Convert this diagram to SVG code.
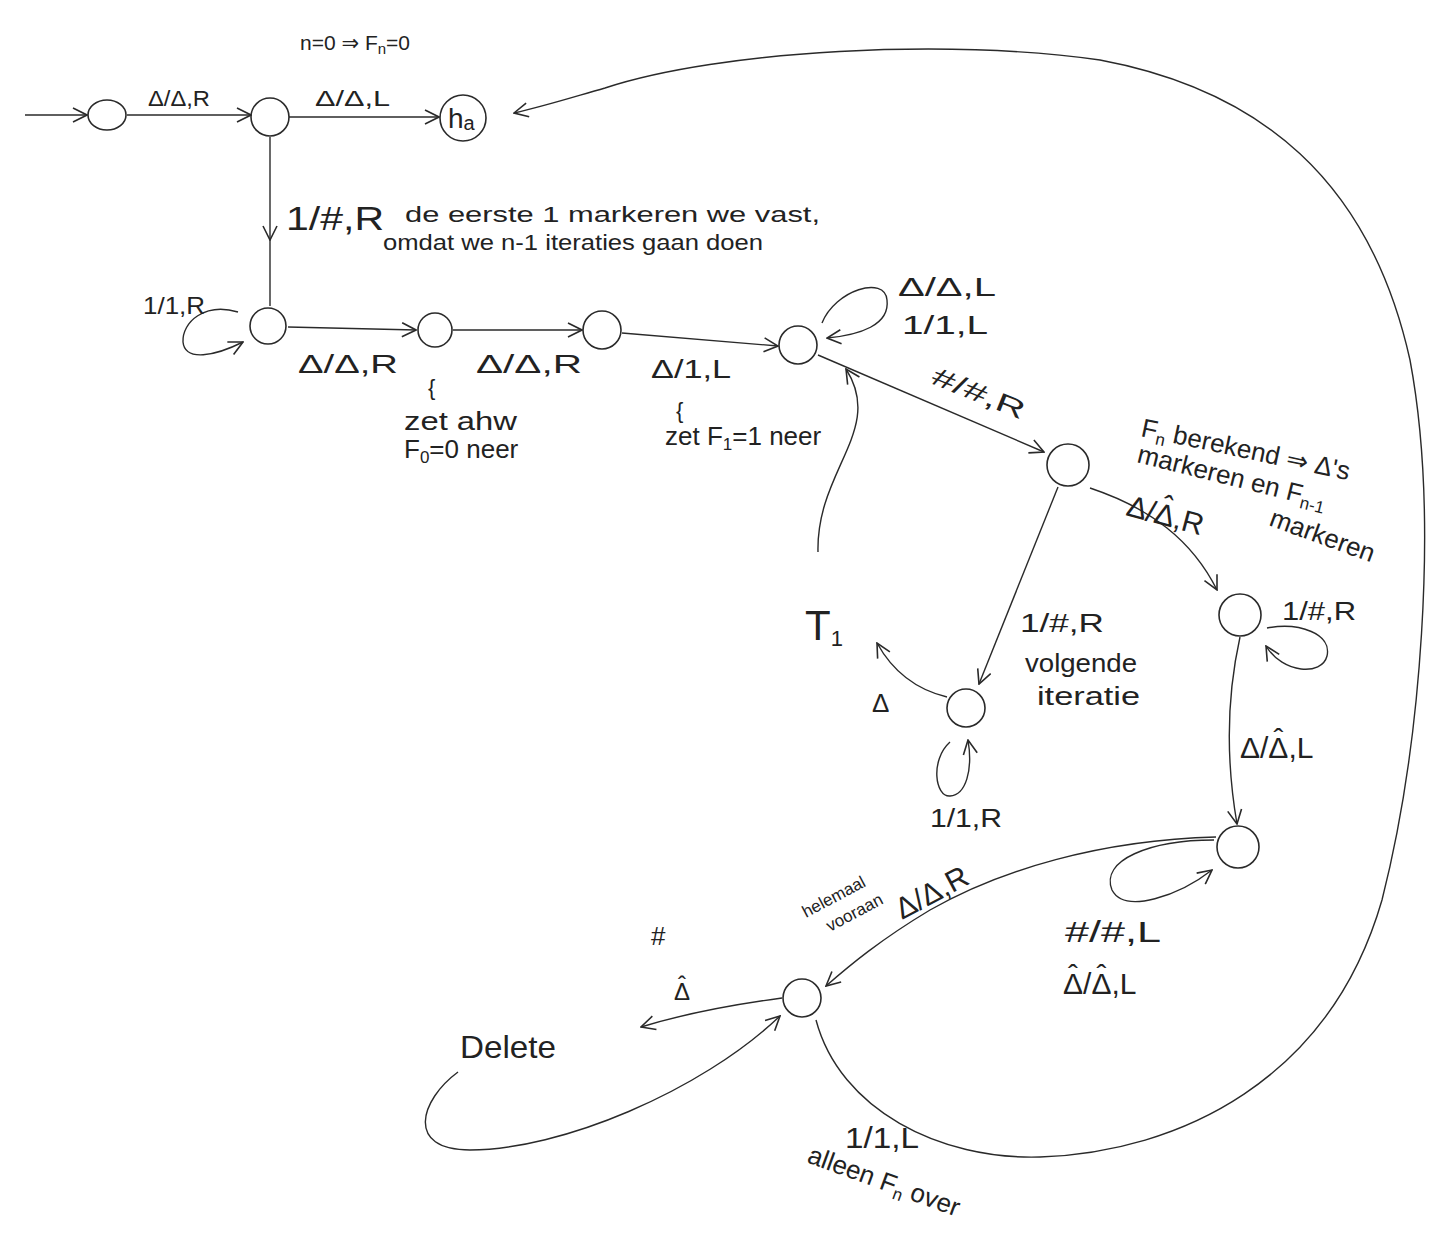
<svg xmlns="http://www.w3.org/2000/svg" width="1435" height="1235" viewBox="0 0 1435 1235">
<style>
  .node { fill: none; stroke: #2a2a2a; stroke-width: 1.6; }
  .edge { fill: none; stroke: #2a2a2a; stroke-width: 1.4; }
  .lbl { font-family: "Liberation Sans", "DejaVu Sans", sans-serif; fill: #222; }
  .s { font-size: 22px; }
  .m { font-size: 26px; }
  .l { font-size: 30px; }
  .note { font-size: 22px; }
</style>
<defs>
  <marker id="arr" viewBox="0 0 16 16" refX="15" refY="8" markerWidth="16" markerHeight="16" markerUnits="userSpaceOnUse" orient="auto">
    <path d="M1,1 L15,8 L1,15" fill="none" stroke="#2a2a2a" stroke-width="1.6"/>
  </marker>
</defs>
<rect width="1435" height="1235" fill="#fff"/>

<g id="connectors">
  <path class="edge" d="M25,115 L87,115" marker-end="url(#arr)"/>
  <path class="edge" d="M127,115 L251,115" marker-end="url(#arr)"/>
  <path class="edge" d="M289,117 L439,117" marker-end="url(#arr)"/>
  <path class="edge" d="M270,137 L270,240" marker-end="url(#arr)"/>
  <path class="edge" d="M270,240 L270,306"/>
  <path class="edge" d="M238,312 C205,302 182,322 183,342 C185,362 215,356 243,342" marker-end="url(#arr)"/>
  <path class="edge" d="M288,327 L416,330" marker-end="url(#arr)"/>
  <path class="edge" d="M453,330 L582,330" marker-end="url(#arr)"/>
  <path class="edge" d="M622,333 L778,346" marker-end="url(#arr)"/>
  <path class="edge" d="M822,323 C835,290 885,275 887,300 C890,325 860,335 827,338" marker-end="url(#arr)"/>
  <path class="edge" d="M818,355 L1044,452" marker-end="url(#arr)"/>
  <path class="edge" d="M818,552 C816,470 885,430 846,369" marker-end="url(#arr)"/>
  <path class="edge" d="M1058,487 L979,684" marker-end="url(#arr)"/>
  <path class="edge" d="M947,697 C918,690 893,672 877,643" marker-end="url(#arr)"/>
  <path class="edge" d="M950,742 C930,760 935,797 950,796 C966,795 973,770 968,740" marker-end="url(#arr)"/>
  <path class="edge" d="M1090,488 C1150,508 1192,540 1217,590" marker-end="url(#arr)"/>
  <path class="edge" d="M1267,628 C1300,622 1332,634 1327,656 C1322,676 1283,674 1266,646" marker-end="url(#arr)"/>
  <path class="edge" d="M1240,637 C1226,700 1226,760 1237,824" marker-end="url(#arr)"/>
  <path class="edge" d="M1214,840 C1150,840 1100,860 1112,890 C1125,915 1180,895 1212,870" marker-end="url(#arr)"/>
  <path class="edge" d="M1216,837 C1100,840 1000,870 930,910 C880,940 850,965 826,986" marker-end="url(#arr)"/>
  <path class="edge" d="M782,998 C730,1005 680,1015 641,1027" marker-end="url(#arr)"/>
  <path class="edge" d="M458,1072 C420,1100 405,1150 470,1150 C560,1150 700,1092 780,1016" marker-end="url(#arr)"/>
  <path class="edge" d="M816,1020 C840,1110 940,1160 1040,1157 C1180,1152 1330,1080 1382,900 C1420,750 1440,520 1410,360 C1370,180 1260,90 1100,60 C950,38 720,50 605,88 C570,98 545,106 514,113" marker-end="url(#arr)"/>
</g>

<g id="q0"><ellipse class="node" cx="107" cy="115" rx="19" ry="15"/></g>
<g id="q1"><circle class="node" cx="270" cy="117" r="19"/></g>
<g id="ha"><circle class="node" cx="463" cy="118" r="23"/>
  <text class="lbl" x="448" y="128" font-size="28">h<tspan font-size="20" dy="2">a</tspan></text></g>
<g id="q2"><circle class="node" cx="268" cy="326" r="18"/></g>
<g id="q3"><circle class="node" cx="435" cy="330" r="17"/></g>
<g id="q4"><circle class="node" cx="602" cy="330" r="19"/></g>
<g id="q5"><circle class="node" cx="798" cy="345" r="19"/></g>
<g id="q6"><circle class="node" cx="1068" cy="465" r="21"/></g>
<g id="q7"><circle class="node" cx="966" cy="708" r="19"/></g>
<g id="q8"><circle class="node" cx="1240" cy="615" r="21"/></g>
<g id="q9"><circle class="node" cx="1238" cy="847" r="21"/></g>
<g id="q10"><circle class="node" cx="802" cy="998" r="19"/></g>

<g id="labels">
  <text class="lbl" x="300" y="50" font-size="21">n=0 ⇒ F<tspan font-size="15" dy="4">n</tspan><tspan dy="-4">=0</tspan></text>
  <text class="lbl s" x="148" y="106" textLength="62" lengthAdjust="spacingAndGlyphs">Δ/Δ,R</text>
  <text class="lbl s" x="315" y="106" textLength="75" lengthAdjust="spacingAndGlyphs">Δ/Δ,L</text>
  <text class="lbl" font-size="34" x="286" y="230" textLength="98" lengthAdjust="spacingAndGlyphs">1/#,R</text>
  <text class="lbl note" x="405" y="222" textLength="415" lengthAdjust="spacingAndGlyphs">de eerste 1 markeren we vast,</text>
  <text class="lbl note" x="383" y="250" textLength="380" lengthAdjust="spacingAndGlyphs">omdat we n-1 iteraties gaan doen</text>
  <text class="lbl" font-size="24" x="143" y="314" textLength="62" lengthAdjust="spacingAndGlyphs">1/1,R</text>
  <text class="lbl m" x="298" y="373" textLength="100" lengthAdjust="spacingAndGlyphs">Δ/Δ,R</text>
  <text class="lbl m" x="476" y="373" textLength="106" lengthAdjust="spacingAndGlyphs">Δ/Δ,R</text>
  <text class="lbl m" x="651" y="378" textLength="80" lengthAdjust="spacingAndGlyphs">Δ/1,L</text>
  <text class="lbl s" x="428" y="395">{</text>
  <text class="lbl m" x="404" y="430" textLength="113" lengthAdjust="spacingAndGlyphs">zet ahw</text>
  <text class="lbl m" x="404" y="458">F<tspan font-size="17" dy="5">0</tspan><tspan dy="-5">=0 neer</tspan></text>
  <text class="lbl s" x="676" y="418">{</text>
  <text class="lbl m" x="665" y="445">zet F<tspan font-size="17" dy="5">1</tspan><tspan dy="-5">=1 neer</tspan></text>
  <text class="lbl m" x="898" y="296" textLength="98" lengthAdjust="spacingAndGlyphs">Δ/Δ,L</text>
  <text class="lbl m" x="902" y="334" textLength="86" lengthAdjust="spacingAndGlyphs">1/1,L</text>
  <text class="lbl m" x="930" y="383" transform="rotate(22 930 383)" textLength="98" lengthAdjust="spacingAndGlyphs">#/#,R</text>
  <text class="lbl m" x="1140" y="436" transform="rotate(12 1140 436)">F<tspan font-size="17" dy="5">n</tspan><tspan dy="-5"> berekend ⇒ Δ's</tspan></text>
  <text class="lbl m" x="1136" y="462" transform="rotate(14 1136 462)">markeren en F<tspan font-size="17" dy="5">n-1</tspan></text>
  <text class="lbl m" x="1268" y="525" transform="rotate(20 1268 525)">markeren</text>
  <text class="lbl l" x="1125" y="515" transform="rotate(15 1125 515)">Δ/Δ<tspan dx="-15" dy="-9">ˆ</tspan><tspan dx="5" dy="9">,R</tspan></text>
  <text class="lbl" font-size="42" x="805" y="640">T<tspan font-size="22" dy="6">1</tspan></text>
  <text class="lbl m" x="872" y="712">Δ</text>
  <text class="lbl m" x="1020" y="632" textLength="84" lengthAdjust="spacingAndGlyphs">1/#,R</text>
  <text class="lbl m" x="1025" y="672" textLength="112" lengthAdjust="spacingAndGlyphs">volgende</text>
  <text class="lbl m" x="1037" y="705" textLength="103" lengthAdjust="spacingAndGlyphs">iteratie</text>
  <text class="lbl m" x="1282" y="620" textLength="74" lengthAdjust="spacingAndGlyphs">1/#,R</text>
  <text class="lbl m" x="930" y="827" textLength="72" lengthAdjust="spacingAndGlyphs">1/1,R</text>
  <text class="lbl l" x="1240" y="758">Δ/Δ<tspan dx="-15" dy="-9">ˆ</tspan><tspan dx="5" dy="9">,L</tspan></text>
  <text class="lbl" font-size="17" x="806" y="918" transform="rotate(-28 806 918)">helemaal</text>
  <text class="lbl" font-size="17" x="830" y="932" transform="rotate(-28 830 932)">vooraan</text>
  <text class="lbl l" x="902" y="920" transform="rotate(-28 902 920)">Δ/Δ,R</text>
  <text class="lbl l" x="1065" y="942" textLength="96" lengthAdjust="spacingAndGlyphs">#/#,L</text>
  <text class="lbl l" x="1063" y="994">Δ<tspan dx="-15" dy="-9">ˆ</tspan><tspan dx="5" dy="9">/Δ</tspan><tspan dx="-15" dy="-9">ˆ</tspan><tspan dx="5" dy="9">,L</tspan></text>
  <text class="lbl m" x="651" y="945">#</text>
  <text class="lbl" font-size="24" x="674" y="1000">Δ<tspan dx="-12" dy="-7">ˆ</tspan></text>
  <text class="lbl" font-size="32" x="460" y="1058" textLength="96" lengthAdjust="spacingAndGlyphs">Delete</text>
  <text class="lbl l" x="845" y="1148" textLength="74" lengthAdjust="spacingAndGlyphs">1/1,L</text>
  <text class="lbl m" x="806" y="1162" transform="rotate(20 806 1162)">alleen F<tspan font-size="17" dy="5">n</tspan><tspan dy="-5"> over</tspan></text>
</g>
</svg>
